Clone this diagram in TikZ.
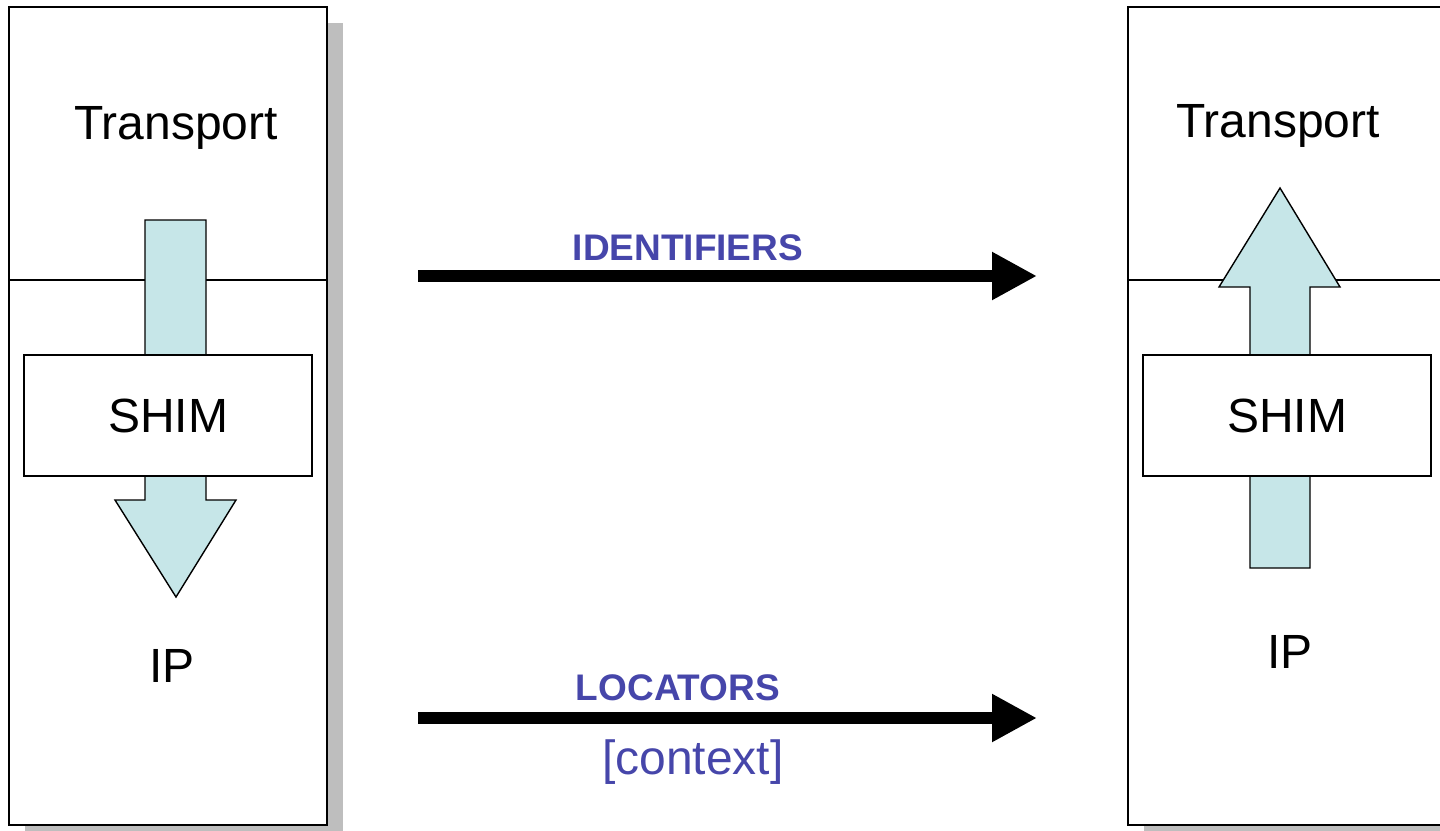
\documentclass[tikz,border=0pt]{standalone}
\usepackage{fontspec}
\setmainfont{Liberation Sans}
\usetikzlibrary{arrows.meta,positioning}
\definecolor{labelblue}{RGB}{70,70,170}
\definecolor{flowcyan}{RGB}{198,230,232}
\definecolor{shadowgray}{RGB}{190,190,190}

\begin{document}
\begin{tikzpicture}[x=0.5pt,y=-0.5pt,
  stack/.style={draw, line width=0.7pt, fill=white, minimum width=159pt, minimum height=409pt, inner sep=0pt},
  backshadow/.style={fill=shadowgray, minimum width=159pt, minimum height=409pt, inner sep=0pt},
  shim/.style={draw, line width=0.7pt, fill=white, minimum width=144pt, minimum height=60.5pt, font=\fontsize{24}{28}\selectfont},
  layer/.style={anchor=base, font=\fontsize{24}{28}\selectfont},
  blockarrow/.style={draw, line width=0.7pt, fill=flowcyan},
  flow/.style={line width=6pt, -{Triangle[length=22.5pt,width=22.5pt]}},
  flowlabel/.style={text=labelblue, inner sep=0pt, font=\bfseries\fontsize{18.5}{22}\selectfont},
  ctxlabel/.style={text=labelblue, inner sep=0pt, font=\fontsize{24}{28}\selectfont}]

  \clip (0,0) rectangle (1440,830);
  \coordinate (cut) at (0,280);

  % left stack
  \node[backshadow] (LS) at (184,432) {};
  \node[stack]      (L)  at (168,416) {};
  \draw[line width=0.6pt] (L.west |- cut) -- (L.east |- cut);
  \draw[blockarrow] (145,220) -- (206,220) -- (206,500) -- (236,500)
        -- (176,597) -- (115,500) -- (145,500) -- cycle;
  \node[shim]  (LSHIM) at (168,415.5) {SHIM};
  \node[layer] (LT)    at (176,139)   {Transport};
  \node[layer] (LIP)   at (172,682)   {IP};

  % right stack
  \node[backshadow] (RS) at (1303,432) {};
  \node[stack]      (R)  at (1287,416) {};
  \draw[line width=0.6pt] (R.west |- cut) -- (R.east |- cut);
  \draw[blockarrow] (1250,568) -- (1310,568) -- (1310,287) -- (1340,287)
        -- (1280,188) -- (1219,287) -- (1250,287) -- cycle;
  \node[shim]  (RSHIM) at (1287,415.5) {SHIM};
  \node[layer] (RT)    at (1278,137)   {Transport};
  \node[layer] (RIP)   at (1290,668)   {IP};

  % flows
  \coordinate (idfrom)  at (418,276);
  \coordinate (idto)    at (1037,276);
  \coordinate (locfrom) at (418,718);
  \coordinate (locto)   at (1037,718);

  \path [flow]
        (idfrom)  edge node[flowlabel, above=4.5pt, pos=0.436] (ID)  {IDENTIFIERS} (idto)
        (locfrom) edge node[flowlabel, above=5.5pt, pos=0.42]  (LOC) {LOCATORS}
                       node[ctxlabel, below=8pt, pos=0.444] (CTX) {[context]} (locto);
\end{tikzpicture}
\end{document}
